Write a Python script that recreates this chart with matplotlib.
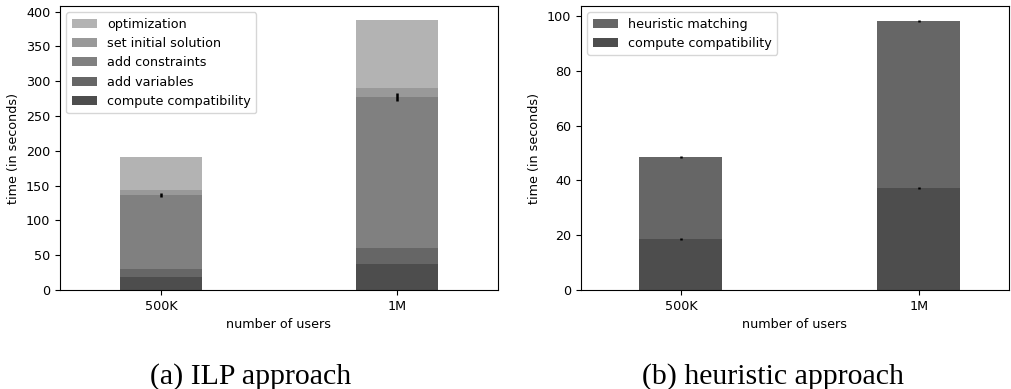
import matplotlib

matplotlib.use("Agg")
import matplotlib.pyplot as plt
import numpy as np

users = ["500K", "1M"]

# ILP approach stages (bottom to top), seconds
ilp_stages = [
    "compute compatibility",
    "add variables",
    "add constraints",
    "set initial solution",
    "optimization",
]
ilp_values = [
    [19.0, 37.5],
    [11.0, 23.0],
    [106.5, 216.5],
    [7.5, 13.0],
    [47.0, 98.0],
]
ilp_errors = [
    [0.3, 0.4],
    [0.3, 0.4],
    [3.0, 6.0],
    [0.3, 0.5],
    [0.4, 0.6],
]
ilp_colors = ["#4d4d4d", "#666666", "#808080", "#999999", "#b3b3b3"]

# heuristic approach stages
heur_stages = ["compute compatibility", "heuristic matching"]
heur_values = [
    [18.6, 37.2],
    [29.9, 61.0],
]
heur_errors = [
    [0.2, 0.3],
    [0.2, 0.3],
]
heur_colors = ["#4d4d4d", "#666666"]

plt.rcParams["font.size"] = 9.2


def stacked(ax, stages, values, errors, colors):
    x = np.arange(len(users))
    bottom = np.zeros(len(users))
    handles = []
    for name, vals, errs, col in zip(stages, values, errors, colors):
        vals = np.array(vals)
        h = ax.bar(x, vals, 0.35, bottom=bottom, color=col, label=name,
                   yerr=errs, error_kw=dict(ecolor="black", elinewidth=1.8, capsize=0))
        handles.append(h)
        bottom = bottom + vals
    ax.set_xticks(x)
    ax.set_xticklabels(users)
    ax.set_xlabel("number of users")
    ax.set_ylabel("time (in seconds)")
    ax.legend(handles[::-1], stages[::-1], loc="upper left")
    return bottom


fig = plt.figure(figsize=(10.11, 3.89), dpi=100)

ax1 = fig.add_axes([60 / 1011, 99 / 389, 438 / 1011, 284 / 389])
top1 = stacked(ax1, ilp_stages, ilp_values, ilp_errors, ilp_colors)
ax1.set_xlim(-0.43, 1.43)
ax1.set_ylim(0, 408)

ax2 = fig.add_axes([581 / 1011, 99 / 389, 428 / 1011, 284 / 389])
top2 = stacked(ax2, heur_stages, heur_values, heur_errors, heur_colors)
ax2.set_xlim(-0.42, 1.38)
ax2.set_ylim(0, 103.6)

fig.text(251 / 1011, 1 - 377 / 389, "(a) ILP approach", ha="center", va="center",
         family="Liberation Serif", fontsize=21.5)
fig.text(773 / 1011, 1 - 377 / 389, "(b) heuristic approach", ha="center", va="center",
         family="Liberation Serif", fontsize=21.5)

fig.savefig("out.png", dpi=100)
